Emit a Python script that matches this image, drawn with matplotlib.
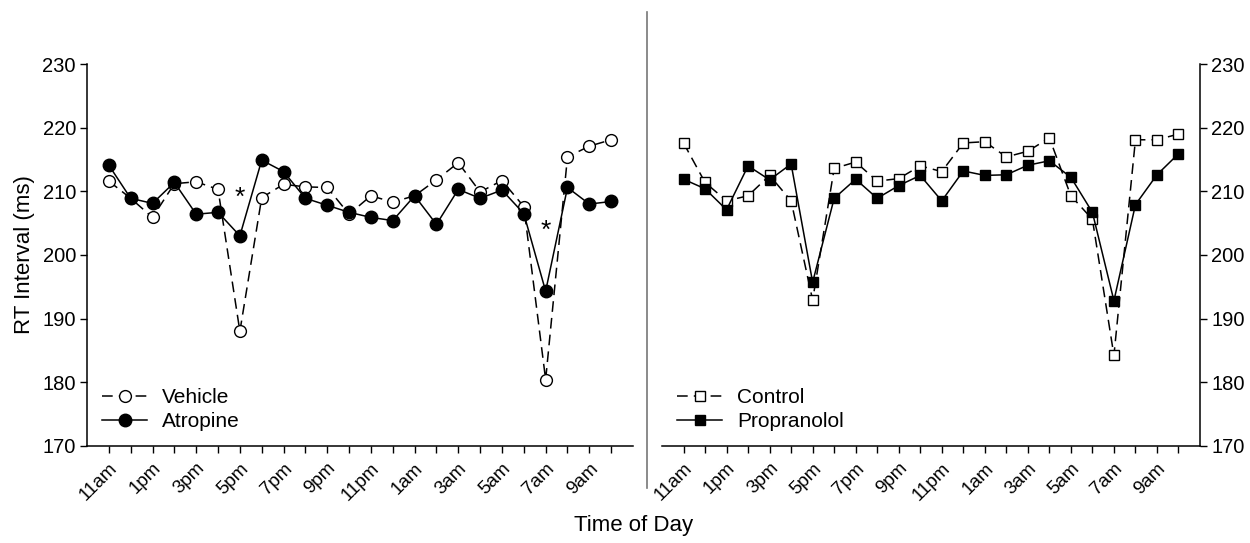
import numpy as np
import matplotlib.pyplot as plt
from matplotlib.lines import Line2D

plt.rcParams['font.family'] = ['Liberation Sans', 'DejaVu Sans']

# hourly time points, 11am -> 10am
hours = ["11am", "12pm", "1pm", "2pm", "3pm", "4pm", "5pm", "6pm", "7pm", "8pm",
         "9pm", "10pm", "11pm", "12am", "1am", "2am", "3am", "4am", "5am", "6am",
         "7am", "8am", "9am", "10am"]
tick_labels = hours[::2]

# left panel
vehicle = [211.6, 208.9, 205.9, 211.2, 211.5, 210.3, 188.0, 209.0, 211.1, 210.7,
           210.6, 206.4, 209.3, 208.3, 209.3, 211.8, 214.5, 209.9, 211.7, 207.6,
           180.4, 215.4, 217.1, 218.1]
atropine = [214.1, 208.9, 208.1, 211.4, 206.4, 206.7, 203.0, 214.9, 213.1, 208.9,
            207.8, 206.7, 205.9, 205.4, 209.3, 204.8, 210.3, 208.9, 210.2, 206.5,
            194.3, 210.6, 208.0, 208.4]
star_hours = ["5pm", "7am"]
star_vals = [210.0, 204.8]

# right panel
control = [217.6, 211.4, 208.5, 209.3, 212.5, 208.5, 192.9, 213.6, 214.6, 211.6,
           212.0, 214.0, 213.1, 217.6, 217.8, 215.4, 216.3, 218.4, 209.3, 205.6,
           184.2, 218.1, 218.1, 219.0]
propranolol = [211.9, 210.4, 207.1, 214.0, 211.8, 214.3, 195.7, 208.9, 211.9, 208.9,
               210.9, 212.5, 208.5, 213.2, 212.5, 212.6, 214.1, 214.8, 212.2, 206.7,
               192.8, 207.9, 212.6, 215.9]

x = np.arange(len(hours))

fig = plt.figure(figsize=(12.5, 5.43), dpi=100)
ax1 = fig.add_axes([0.0696, 0.179, 0.4368, 0.703])
ax2 = fig.add_axes([0.5296, 0.179, 0.4304, 0.703])

open_kw = dict(color="black", lw=1.1, markerfacecolor="white", markeredgecolor="black",
               markeredgewidth=1.0, dashes=(7, 4))
fill_kw = dict(color="black", lw=1.1, markerfacecolor="black", markeredgecolor="black")

ax1.plot(x, vehicle, marker="o", ms=8.5, label="Vehicle", **open_kw)
ax1.plot(x, atropine, marker="o", ms=9, label="Atropine", **fill_kw)
# significance marks (glyph sits high in its box, so nudge down a little)
for h, v in zip(star_hours, star_vals):
    ax1.annotate("*", (hours.index(h), v), xytext=(0, -5), textcoords="offset points",
                 ha="center", va="center", fontsize=19)

ax2.plot(x, control, marker="s", ms=7, label="Control", **open_kw)
ax2.plot(x, propranolol, marker="s", ms=7.5, label="Propranolol", **fill_kw)

for ax in (ax1, ax2):
    ax.set_xlim(-1, 24)
    ax.set_ylim(170, 230)
    ax.set_yticks(range(170, 231, 10))
    ax.set_xticks(x, minor=True)
    ax.set_xticks(x[::2])
    ax.set_xticklabels(tick_labels, rotation=45, ha="right", rotation_mode="anchor",
                       fontsize=13.5)
    ax.tick_params(axis="x", which="both", length=5, width=1, direction="out", pad=5)
    ax.tick_params(axis="y", length=5, width=1, labelsize=14.5, pad=3)
    ax.spines["top"].set_visible(False)
    for s in ax.spines.values():
        s.set_linewidth(1.1)
    ax.legend(loc="lower left", bbox_to_anchor=(0.0, 0.0), frameon=False,
              fontsize=15, handlelength=2.2, handletextpad=0.7, labelspacing=0.25,
              borderaxespad=0.3)

ax1.spines["right"].set_visible(False)
ax1.set_ylabel("RT Interval (ms)", fontsize=16, labelpad=5)

ax2.spines["left"].set_visible(False)
ax2.yaxis.tick_right()
ax2.yaxis.set_label_position("right")

fig.text(0.507, 0.032, "Time of Day", ha="center", va="center", fontsize=16)
fig.add_artist(Line2D([0.5176, 0.5176], [0.978, 0.101], color="#777777", lw=1.2))

fig.savefig("out.png", dpi=100)
